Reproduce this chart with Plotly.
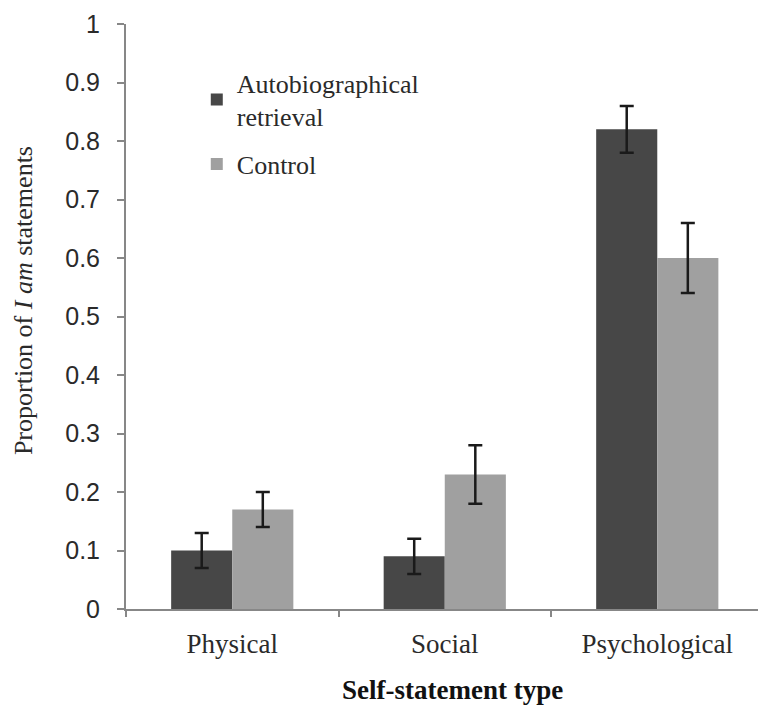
import plotly.graph_objects as go

categories = ["Physical", "Social", "Psychological"]
series_names = ["Autobiographical<br>retrieval", "Control"]
autobio_vals = [0.10, 0.09, 0.82]
autobio_err = [0.03, 0.03, 0.04]
control_vals = [0.17, 0.23, 0.60]
control_err = [0.03, 0.05, 0.06]
y_ticks = [0, 0.1, 0.2, 0.3, 0.4, 0.5, 0.6, 0.7, 0.8, 0.9, 1]
y_ticktext = ["0", "0.1", "0.2", "0.3", "0.4", "0.5", "0.6", "0.7", "0.8", "0.9", "1"]

serif = "Liberation Serif, Times New Roman, serif"
sans = "Liberation Sans, Arial, sans-serif"
txt = "#2a2a2a"
axc = "#878787"

fig = go.Figure()
fig.add_trace(go.Bar(
    x=categories, y=autobio_vals, name=series_names[0], legendgroup="a",
    marker=dict(color="#474747", line=dict(width=0)),
    error_y=dict(type="data", array=autobio_err, color="#1a1a1a", thickness=2.5, width=7),
))
fig.add_trace(go.Bar(
    x=categories, y=control_vals, name=series_names[1], legendgroup="b",
    marker=dict(color="#a0a0a0", line=dict(width=0)),
    error_y=dict(type="data", array=control_err, color="#1a1a1a", thickness=2.5, width=7),
))

fig.update_layout(
    width=758, height=709,
    margin=dict(l=126, r=0, t=24, b=100),
    paper_bgcolor="white", plot_bgcolor="white",
    barmode="group", bargap=0.425, bargroupgap=0,
    showlegend=True,
    legend=dict(
        x=0.112, y=0.94, xanchor="left", yanchor="top",
        font=dict(family=serif, size=26, color=txt),
        bgcolor="rgba(0,0,0,0)", itemsizing="constant", tracegroupgap=11,
    ),
    xaxis=dict(
        range=[-0.5, 2.474],
        showline=True, linecolor=axc, linewidth=2,
        ticks="outside", tickson="boundaries", ticklen=6, tickcolor=axc, tickwidth=2,
        tickfont=dict(family=serif, size=27, color=txt),
        ticklabelstandoff=10,
        showgrid=False, zeroline=False,
    ),
    yaxis=dict(
        range=[0, 1],
        tickvals=y_ticks, ticktext=y_ticktext,
        showline=True, linecolor=axc, linewidth=2,
        ticks="outside", ticklen=7, tickcolor=axc, tickwidth=2,
        tickfont=dict(family=sans, size=25, color=txt),
        ticklabelstandoff=12,
        showgrid=False, zeroline=False,
    ),
    annotations=[
        dict(text="Proportion of <i>I am</i> statements", xref="paper", yref="paper",
             x=-0.163, y=0.528, xanchor="center", yanchor="middle", textangle=-90,
             showarrow=False, font=dict(family=serif, size=26, color=txt)),
        dict(text="<b>Self-statement type</b>", xref="paper", yref="paper",
             x=0.517, y=-0.138, xanchor="center", yanchor="middle",
             showarrow=False, font=dict(family=serif, size=27, color="#111111")),
    ],
)

fig.write_html(
    "out.html",
    config={"displayModeBar": False},
    post_script="document.body.style.margin='0';document.body.style.overflow='hidden';",
)
